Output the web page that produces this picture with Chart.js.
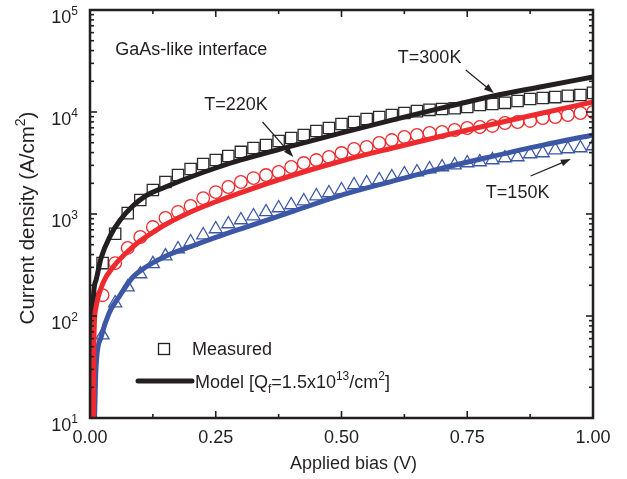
<!DOCTYPE html>
<html lang="en">
<head>
<meta charset="UTF-8" />
<title>Current density vs applied bias</title>
<script src="https://cdn.jsdelivr.net/npm/chart.js"></script>
<style>
  html, body { margin: 0; padding: 0; background: #fff; }
  #wrap { width: 627px; height: 479px; }
</style>
</head>
<body>
<div id="wrap"><canvas id="jv" width="627" height="479"></canvas></div>
<script>
// measured points (same bias grid for every temperature)
const biasMeasured = [0.025, 0.05, 0.075, 0.1, 0.125, 0.15, 0.175, 0.2, 0.225, 0.25,
  0.275, 0.3, 0.325, 0.35, 0.375, 0.4, 0.425, 0.45, 0.475, 0.5,
  0.525, 0.55, 0.575, 0.6, 0.625, 0.65, 0.675, 0.7, 0.725, 0.75,
  0.775, 0.8, 0.825, 0.85, 0.875, 0.9, 0.925, 0.95, 0.975, 1.0];
const measured300 = [330, 640, 1020, 1370, 1720, 2060, 2410, 2760, 3090, 3380,
  3700, 4060, 4440, 4750, 5200, 5560, 5950, 6520, 6970, 7630,
  7980, 8540, 8930, 9340, 9780, 10200, 10500, 10700, 10900, 11200,
  11700, 12000, 12300, 12800, 13400, 13700, 14000, 14400, 14700, 15400];
const measured220 = [160, 330, 465, 595, 745, 915, 1050, 1200, 1430, 1640,
  1840, 2060, 2250, 2410, 2580, 2890, 3160, 3380, 3620, 3960,
  4340, 4540, 4970, 5310, 5690, 5950, 6230, 6370, 6660, 6970,
  7130, 7300, 7800, 7980, 8170, 8730, 8930, 9340, 9780, 10000];
const measured150 = [65, 134, 192, 258, 324, 387, 454, 531, 622, 713,
  798, 873, 955, 1047, 1145, 1225, 1340, 1500, 1606, 1718,
  1924, 2013, 2154, 2307, 2468, 2580, 2761, 2890, 3020, 3162,
  3236, 3383, 3540, 3622, 3873, 3963, 4238, 4337, 4439, 4641];

// model curves, Qf = 1.5e13 /cm2
const biasModel300 = [0.003, 0.006, 0.012, 0.022, 0.04, 0.06, 0.085, 0.11, 0.15, 0.2, 0.25, 0.3, 0.4, 0.5, 0.6, 0.7, 0.8, 0.9, 1.0];
const model300 = [10, 128, 225, 370, 608, 873, 1198, 1500, 1841, 2307, 2825, 3390, 4624, 6237, 8318, 10965, 14289, 17783, 22030];
const biasModel220 = [0.007, 0.0075, 0.011, 0.026, 0.046, 0.072, 0.098, 0.125, 0.151, 0.2, 0.25, 0.3, 0.4, 0.5, 0.6, 0.7, 0.8, 0.9, 1.0];
const model220 = [10, 46, 115, 211, 302, 415, 537, 661, 794, 1047, 1318, 1622, 2371, 3311, 4416, 5821, 7586, 9772, 12530];
const biasModel150 = [0.009, 0.012, 0.022, 0.038, 0.058, 0.085, 0.111, 0.151, 0.2, 0.25, 0.3, 0.4, 0.5, 0.6, 0.7, 0.8, 0.9, 1.0];
const model150 = [10, 31.6, 62, 107, 155, 240, 302, 387, 479, 589, 716, 1047, 1531, 2089, 2818, 3673, 4732, 5957];

// axes
const xTicks = [0, 0.25, 0.5, 0.75, 1.0];
const xTickLabels = ['0.00', '0.25', '0.50', '0.75', '1.00'];
const xMinor = [0.125, 0.375, 0.625, 0.875];
const yDecades = [10, 100, 1000, 10000, 100000];
const yExponents = ['1', '2', '3', '4', '5'];

const INK = '#231f20';
const RED = '#ee2a2e';
const BLUE = '#3b57a6';
const FONT = '"Liberation Sans", Arial, Helvetica, sans-serif';

const pts = (xs, ys) => xs.map((v, i) => ({ x: v, y: ys[i] }));

// text with sub/superscript pieces: [[text, ''|'sup'|'sub'], ...]
function richText(ctx, parts, x, y, size, align) {
  const small = Math.round(size * 0.68);
  let total = 0;
  parts.forEach(([t, k]) => {
    ctx.font = (k ? small : size) + 'px ' + FONT;
    total += ctx.measureText(t).width;
  });
  let cx = align === 'center' ? x - total / 2 : align === 'right' ? x - total : x;
  ctx.textAlign = 'left';
  ctx.textBaseline = 'alphabetic';
  parts.forEach(([t, k]) => {
    ctx.font = (k ? small : size) + 'px ' + FONT;
    const dy = k === 'sup' ? -size * 0.42 : k === 'sub' ? size * 0.28 : 0;
    ctx.fillText(t, cx, y + dy);
    cx += ctx.measureText(t).width;
  });
}

function arrow(ctx, x1, y1, x2, y2) {
  const ang = Math.atan2(y2 - y1, x2 - x1);
  const len = 10, half = 3.5;
  ctx.beginPath();
  ctx.moveTo(x1, y1);
  ctx.lineTo(x2 - Math.cos(ang) * len * 0.8, y2 - Math.sin(ang) * len * 0.8);
  ctx.stroke();
  ctx.beginPath();
  ctx.moveTo(x2, y2);
  ctx.lineTo(x2 - Math.cos(ang) * len - Math.sin(ang) * half, y2 - Math.sin(ang) * len + Math.cos(ang) * half);
  ctx.lineTo(x2 - Math.cos(ang) * len + Math.sin(ang) * half, y2 - Math.sin(ang) * len - Math.cos(ang) * half);
  ctx.closePath();
  ctx.fill();
}

// labels and arrows placed in data units
const notes = [
  { text: 'GaAs-like interface', x: 0.05, y: 36200 },
  { text: 'T=300K', x: 0.612, y: 30200 },
  { text: 'T=220K', x: 0.227, y: 10470 },
  { text: 'T=150K', x: 0.787, y: 1435 }
];
const arrows = [
  [0.747, 25800, 0.803, 15360],
  [0.343, 7980, 0.404, 3622],
  [0.876, 2360, 0.956, 3460]
];

const frame = {
  id: 'frame',
  afterDraw(chart) {
    const { ctx, chartArea: a, scales: { x, y } } = chart;
    ctx.save();
    ctx.strokeStyle = INK;
    ctx.fillStyle = INK;

    // tick marks on all four sides, pointing inward
    const tick = (x1, y1, x2, y2) => { ctx.beginPath(); ctx.moveTo(x1, y1); ctx.lineTo(x2, y2); ctx.stroke(); };
    ctx.lineWidth = 1.6;
    xTicks.forEach(v => {
      const px = x.getPixelForValue(v);
      tick(px, a.bottom, px, a.bottom - 7);
      tick(px, a.top, px, a.top + 7);
    });
    xMinor.forEach(v => {
      const px = x.getPixelForValue(v);
      tick(px, a.bottom, px, a.bottom - 4);
      tick(px, a.top, px, a.top + 4);
    });
    yDecades.forEach((d, i) => {
      const py = y.getPixelForValue(d);
      tick(a.left, py, a.left + 7, py);
      tick(a.right, py, a.right - 7, py);
      if (i < yDecades.length - 1) {
        for (let m = 2; m <= 9; m++) {
          const pm = y.getPixelForValue(d * m);
          tick(a.left, pm, a.left + 4, pm);
          tick(a.right, pm, a.right - 4, pm);
        }
      }
    });

    ctx.lineWidth = 2.5;
    ctx.strokeRect(a.left, a.top, a.right - a.left, a.bottom - a.top);

    // tick labels
    ctx.font = '18px ' + FONT;
    ctx.textAlign = 'center';
    ctx.textBaseline = 'alphabetic';
    xTicks.forEach((v, i) => ctx.fillText(xTickLabels[i], x.getPixelForValue(v), a.bottom + 25));
    yDecades.forEach((d, i) => {
      richText(ctx, [['10', ''], [yExponents[i], 'sup']], a.left - 12, y.getPixelForValue(d) + 12.5, 18, 'right');
    });

    // axis titles
    ctx.font = '18px ' + FONT;
    ctx.textAlign = 'center';
    ctx.fillText('Applied bias (V)', (a.left + a.right) / 2 + 12, a.bottom + 51);
    ctx.save();
    ctx.translate(34, (a.top + a.bottom) / 2 + 4);
    ctx.rotate(-Math.PI / 2);
    richText(ctx, [['Current density (A/cm', ''], ['2', 'sup'], [')', '']], 0, 0, 20.5, 'center');
    ctx.restore();

    // notes and arrows
    ctx.font = '18px ' + FONT;
    ctx.textAlign = 'left';
    notes.forEach(n => ctx.fillText(n.text, x.getPixelForValue(n.x), y.getPixelForValue(n.y)));
    ctx.lineWidth = 1.2;
    arrows.forEach(([x1, y1, x2, y2]) => arrow(ctx,
      x.getPixelForValue(x1), y.getPixelForValue(y1), x.getPixelForValue(x2), y.getPixelForValue(y2)));

    // legend
    const lx = a.left + 74, ly = a.bottom - 69;
    ctx.lineWidth = 1.3;
    ctx.strokeRect(lx - 5.5, ly - 5.5, 11, 11);
    ctx.font = '18px ' + FONT;
    ctx.fillText('Measured', lx + 28, ly + 6);
    ctx.lineWidth = 5;
    ctx.lineCap = 'round';
    ctx.beginPath();
    ctx.moveTo(a.left + 48, ly + 32);
    ctx.lineTo(a.left + 102, ly + 32);
    ctx.stroke();
    richText(ctx, [['Model [Q', ''], ['f', 'sub'], ['=1.5x10', ''], ['13', 'sup'], ['/cm', ''], ['2', 'sup'], [']', '']],
      a.left + 105, ly + 39, 18, 'left');
    ctx.restore();
  }
};

const modelLine = (data, color, order) => ({
  type: 'line', data, order, showLine: true, borderColor: color, borderWidth: 5,
  pointRadius: 0, cubicInterpolationMode: 'monotone', fill: false
});
const measuredSet = (data, color, style, radius) => ({
  type: 'scatter', data, order: 5, showLine: false, pointStyle: style, pointRadius: radius,
  borderColor: color, backgroundColor: 'rgba(0,0,0,0)', pointBorderWidth: 1.3
});

new Chart(document.getElementById('jv'), {
  type: 'scatter',
  data: {
    datasets: [
      modelLine(pts(biasModel220, model220), RED, 0),
      modelLine(pts(biasModel150, model150), BLUE, 1),
      modelLine(pts(biasModel300, model300), INK, 2),
      measuredSet(pts(biasMeasured, measured300), '#2b2b2b', 'rect', 8),
      measuredSet(pts(biasMeasured, measured220), RED, 'circle', 6.3),
      measuredSet(pts(biasMeasured, measured150), BLUE, 'triangle', 7.5)
    ]
  },
  options: {
    responsive: false,
    animation: false,
    devicePixelRatio: 1,
    layout: { padding: { left: 90, right: 34, top: 10, bottom: 61 } },
    plugins: { legend: { display: false }, tooltip: { enabled: false } },
    scales: {
      x: { type: 'linear', min: 0, max: 1, display: false },
      y: { type: 'logarithmic', min: 10, max: 100000, display: false }
    }
  },
  plugins: [frame]
});
</script>
</body>
</html>
